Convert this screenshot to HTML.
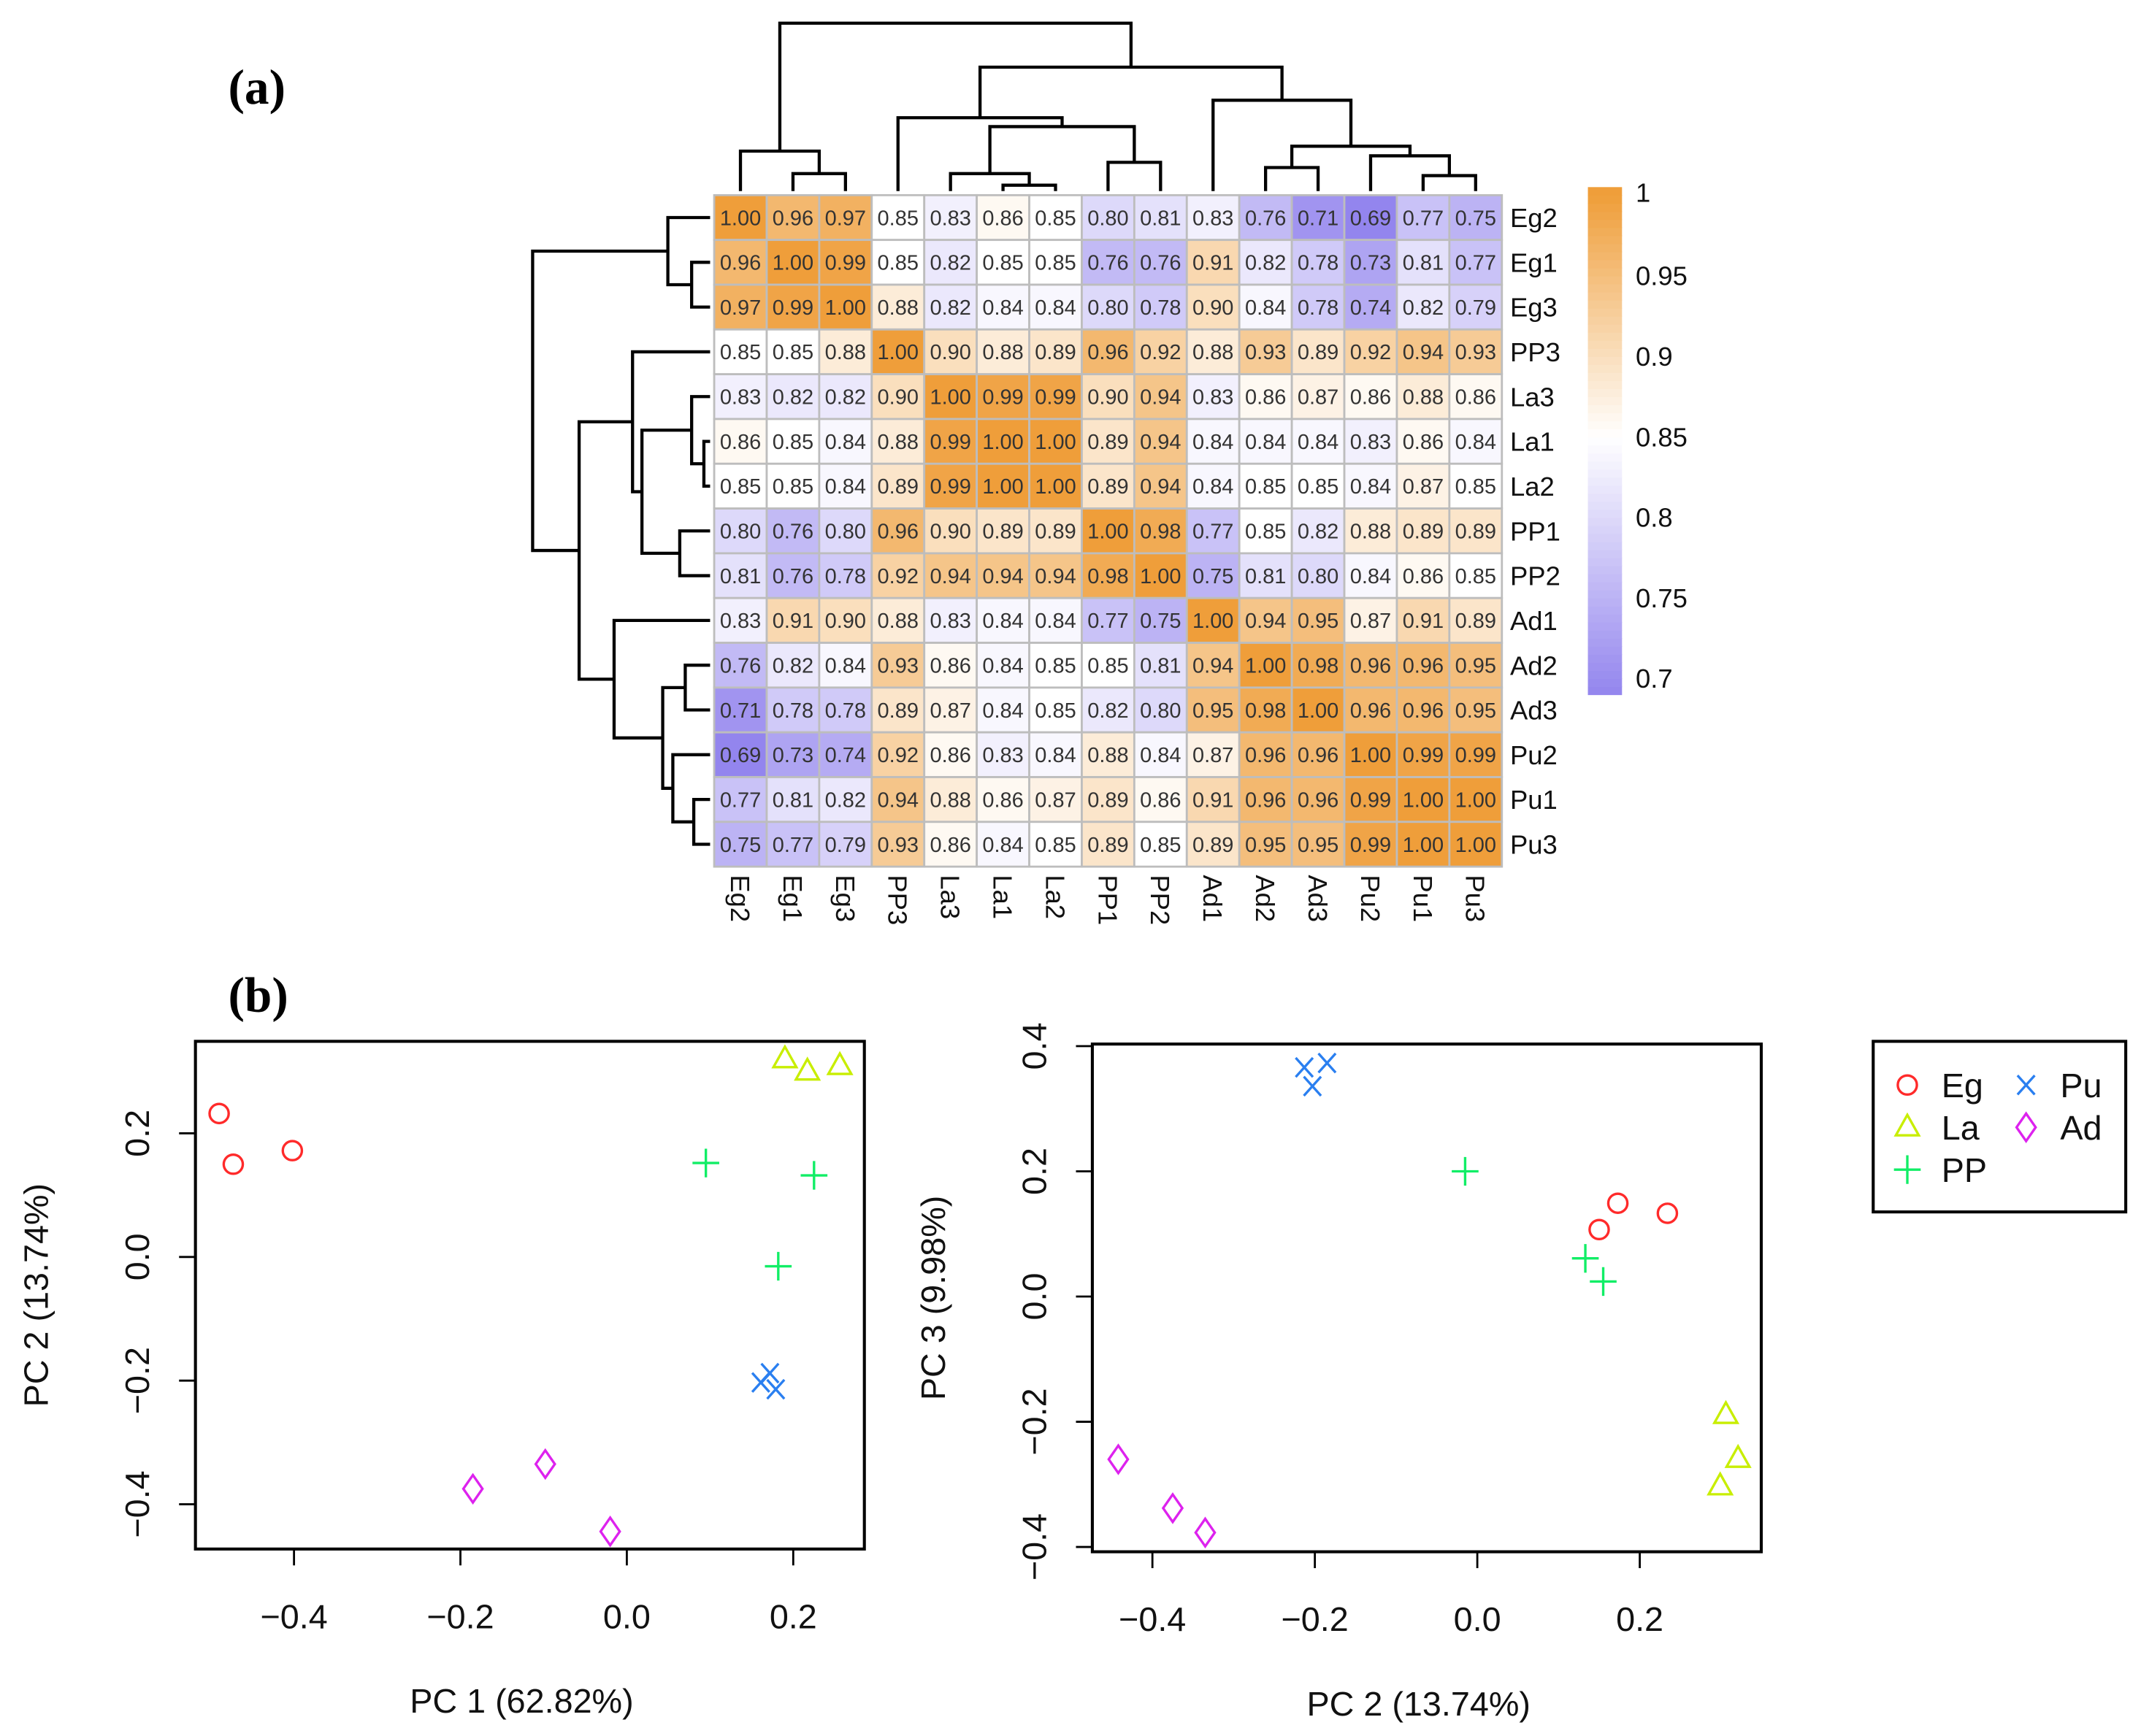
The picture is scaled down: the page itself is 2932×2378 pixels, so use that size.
<!DOCTYPE html>
<html><head><meta charset="utf-8">
<style>
html,body{margin:0;padding:0;background:#fff;}
svg{display:block;}
text{font-family:"Liberation Sans",sans-serif;}
</style></head>
<body>
<svg id="fig" width="2932" height="2378" viewBox="0 0 1568 1272" xmlns="http://www.w3.org/2000/svg">
<rect width="1568" height="1272" fill="#fff"/>
<text x="167" y="76" font-weight="bold" font-size="36" style="font-family:'Liberation Serif',serif">(a)</text>
<text x="167" y="741" font-weight="bold" font-size="36" style="font-family:'Liberation Serif',serif">(b)</text>
<g id="heat"></g>
<g id="pca1"></g>
<g id="pca2"></g>
<g id="legend"></g>
</svg>
<script>
const labels = ["Eg2","Eg1","Eg3","PP3","La3","La1","La2","PP1","PP2","Ad1","Ad2","Ad3","Pu2","Pu1","Pu3"];
const rowEg2 = [1.00,0.96,0.97,0.85,0.83,0.86,0.85,0.80,0.81,0.83,0.76,0.71,0.69,0.77,0.75];
const rowEg1 = [0.96,1.00,0.99,0.85,0.82,0.85,0.85,0.76,0.76,0.91,0.82,0.78,0.73,0.81,0.77];
const rowEg3 = [0.97,0.99,1.00,0.88,0.82,0.84,0.84,0.80,0.78,0.90,0.84,0.78,0.74,0.82,0.79];
const rowPP3 = [0.85,0.85,0.88,1.00,0.90,0.88,0.89,0.96,0.92,0.88,0.93,0.89,0.92,0.94,0.93];
const rowLa3 = [0.83,0.82,0.82,0.90,1.00,0.99,0.99,0.90,0.94,0.83,0.86,0.87,0.86,0.88,0.86];
const rowLa1 = [0.86,0.85,0.84,0.88,0.99,1.00,1.00,0.89,0.94,0.84,0.84,0.84,0.83,0.86,0.84];
const rowLa2 = [0.85,0.85,0.84,0.89,0.99,1.00,1.00,0.89,0.94,0.84,0.85,0.85,0.84,0.87,0.85];
const rowPP1 = [0.80,0.76,0.80,0.96,0.90,0.89,0.89,1.00,0.98,0.77,0.85,0.82,0.88,0.89,0.89];
const rowPP2 = [0.81,0.76,0.78,0.92,0.94,0.94,0.94,0.98,1.00,0.75,0.81,0.80,0.84,0.86,0.85];
const rowAd1 = [0.83,0.91,0.90,0.88,0.83,0.84,0.84,0.77,0.75,1.00,0.94,0.95,0.87,0.91,0.89];
const rowAd2 = [0.76,0.82,0.84,0.93,0.86,0.84,0.85,0.85,0.81,0.94,1.00,0.98,0.96,0.96,0.95];
const rowAd3 = [0.71,0.78,0.78,0.89,0.87,0.84,0.85,0.82,0.80,0.95,0.98,1.00,0.96,0.96,0.95];
const rowPu2 = [0.69,0.73,0.74,0.92,0.86,0.83,0.84,0.88,0.84,0.87,0.96,0.96,1.00,0.99,0.99];
const rowPu1 = [0.77,0.81,0.82,0.94,0.88,0.86,0.87,0.89,0.86,0.91,0.96,0.96,0.99,1.00,1.00];
const rowPu3 = [0.75,0.77,0.79,0.93,0.86,0.84,0.85,0.89,0.85,0.89,0.95,0.95,0.99,1.00,1.00];
const matrix = [rowEg2,rowEg1,rowEg3,rowPP3,rowLa3,rowLa1,rowLa2,rowPP1,rowPP2,rowAd1,rowAd2,rowAd3,rowPu2,rowPu1,rowPu3];
const colorTicks = [1,0.95,0.9,0.85,0.8,0.75,0.7];
const treeMerges = [[1,2,0.104],[0,15,0.238],[5,6,0.035],[4,17,0.104],[7,8,0.171],[18,19,0.384],[3,20,0.437],[10,11,0.140],[13,14,0.092],[12,23,0.210],[22,24,0.267],[9,25,0.541],[21,26,0.738],[16,27,1.0]];

const pcaGroups = ["Eg","La","PP","Pu","Ad"];
const pc1Eg = [-0.490,-0.473,-0.402]; const pc2Eg = [0.232,0.150,0.172]; const pc3Eg = [0.107,0.149,0.133];
const pc1La = [0.190,0.217,0.256]; const pc2La = [0.320,0.300,0.309]; const pc3La = [-0.189,-0.259,-0.303];
const pc1PP = [0.095,0.225,0.182]; const pc2PP = [0.152,0.132,-0.015]; const pc3PP = [0.200,0.061,0.024];
const pc1Pu = [0.161,0.172,0.179]; const pc2Pu = [-0.203,-0.188,-0.214]; const pc3Pu = [0.366,0.373,0.336];
const pc1Ad = [-0.185,-0.098,-0.020]; const pc2Ad = [-0.375,-0.335,-0.444]; const pc3Ad = [-0.260,-0.338,-0.377];
const p2xEg = [0.150,0.173,0.234]; const p2xLa = [0.306,0.321,0.299]; const p2xPP = [-0.015,0.133,0.155];
const p2xPu = [-0.213,-0.185,-0.203]; const p2xAd = [-0.442,-0.375,-0.335];
const xTicks = [-0.4,-0.2,0.0,0.2];
const yTicks1 = [0.2,0.0,-0.2,-0.4];
const yTicks2 = [0.4,0.2,0.0,-0.2,-0.4];

const NS="http://www.w3.org/2000/svg";
function mk(tag, parent, attrs){const e=document.createElementNS(NS,tag);for(const k in attrs)e.setAttribute(k,attrs[k]);parent.appendChild(e);return e;}

const heat=document.getElementById('heat');
const HX0=523,HX1=1100,HY0=143,HY1=635;
const cw=(HX1-HX0)/labels.length, ch=(HY1-HY0)/labels.length;
function lerp(a,b,t){return Math.round(a+(b-a)*t);}
function color(v){
  const lo=[147,133,238], mid=[255,255,255], hi=[239,158,58];
  let c;
  if(v>=0.85){const t=Math.min(1,(v-0.85)/0.15);c=[0,1,2].map(i=>lerp(mid[i],hi[i],t));}
  else{const t=Math.min(1,(0.85-v)/0.16);c=[0,1,2].map(i=>lerp(mid[i],lo[i],t));}
  return `rgb(${c[0]},${c[1]},${c[2]})`;
}
matrix.forEach((row,r)=>{row.forEach((v,c)=>{
  const rc=mk('rect',heat,{x:HX0+c*cw,y:HY0+r*ch,width:cw,height:ch,fill:color(v),stroke:'#bdbdbd','stroke-width':1.5});
  
  
  const t=mk('text',heat,{x:HX0+c*cw+cw/2,y:HY0+r*ch+ch/2+5.5,'text-anchor':'middle','font-size':15.5,fill:'#333'});
  t.textContent=v.toFixed(2);
  
  
});});
labels.forEach((l,i)=>{
  const t=mk('text',heat,{x:1106,y:HY0+i*ch+ch/2+7,'font-size':19.5,fill:'#111'});
  t.textContent=l;
  
  
  const cx=HX0+i*cw+cw/2;
  const t2=mk('text',heat,{x:0,y:0,'font-size':19.5,fill:'#111',transform:`translate(${cx-7},641) rotate(90)`});
  t2.textContent=l;
  
  
});
function dendro(horizontal){
  const pos=labels.map((_,i)=>i), hts=labels.map(()=>0);
  const g=mk('g',heat,{stroke:'#000','stroke-width':2.3,fill:'none'});
  
  
  treeMerges.forEach(m=>{
    const [a,b,h]=m;
    const pa=pos[a],pb=pos[b],ha=hts[a],hb=hts[b];
    let d;
    if(!horizontal){
      const X=p=>HX0+p*cw+cw/2, Y=hh=>HY0-3-hh*123;
      d=`M${X(pa)},${Y(ha)}V${Y(h)}H${X(pb)}V${Y(hb)}`;
    }else{
      const Y=p=>HY0+p*ch+ch/2, X=hh=>HX0-3-hh*130;
      d=`M${X(ha)},${Y(pa)}H${X(h)}V${Y(pb)}H${X(hb)}`;
    }
    const p=mk('path',g,{d});
    
    
    pos.push((pa+pb)/2);hts.push(h);
  });
}
dendro(false);dendro(true);
const CB={x:1163,w:25,y1:143,y07:497};
const cbY=v=>CB.y07+(v-0.7)/(0.3)*(CB.y1-CB.y07);
for(let v=0.69;v<1.0001;v+=0.005){
  const r=mk('rect',heat,{x:CB.x,y:cbY(v+0.005),width:CB.w,height:cbY(v)-cbY(v+0.005)+0.5,fill:color(v+0.0025)});
  
  
}
colorTicks.forEach(v=>{
  const t=mk('text',heat,{x:1198,y:cbY(v)+(v===1?5:7),'font-size':19.5,fill:'#111'});
  t.textContent=String(v);
  
  
});

const groupColors={Eg:'#ff2a2a',La:'#c8ee00',PP:'#11ee66',Pu:'#2a7ff0',Ad:'#dd22ee'};
function marker(g,grp,x,y,s){
  const c=groupColors[grp];let e;
  if(grp==='Eg') e=mk('circle',g,{cx:x,cy:y,r:s*0.5,fill:'none',stroke:c,'stroke-width':1.8});
  else if(grp==='La') e=mk('path',g,{d:`M${x},${y-s*0.65}L${x+s*0.6},${y+s*0.42}L${x-s*0.6},${y+s*0.42}Z`,fill:'none',stroke:c,'stroke-width':1.8});
  else if(grp==='PP') e=mk('path',g,{d:`M${x-s*0.7},${y}H${x+s*0.7}M${x},${y-s*0.75}V${y+s*0.75}`,stroke:c,'stroke-width':1.8});
  else if(grp==='Pu') e=mk('path',g,{d:`M${x-s*0.45},${y-s*0.5}L${x+s*0.45},${y+s*0.5}M${x-s*0.45},${y+s*0.5}L${x+s*0.45},${y-s*0.5}`,stroke:c,'stroke-width':1.8});
  else e=mk('path',g,{d:`M${x},${y-s*0.72}L${x+s*0.5},${y}L${x},${y+s*0.72}L${x-s*0.5},${y}Z`,fill:'none',stroke:c,'stroke-width':1.8});
  return e;
}
function pcaPlot(id,box,xs,ys,xT,yT,xTitle,yTitle,series){
  const g=document.getElementById(id);
  
  
  const fr=mk('rect',g,{x:box.x0,y:box.y0,width:box.x1-box.x0,height:box.y1-box.y0,fill:'none',stroke:'#000','stroke-width':2.2});
  
  
  xT.forEach(v=>{
    const x=xs(v);
    const l=mk('line',g,{x1:x,x2:x,y1:box.y1,y2:box.y1+12,stroke:'#000','stroke-width':1.5});
    
    
    const t=mk('text',g,{x:x,y:box.y1+58,'text-anchor':'middle','font-size':25,fill:'#111'});
    t.textContent=(v<0?'\u2212':'')+Math.abs(v).toFixed(1);
    
    
  });
  yT.forEach(v=>{
    const y=ys(v);
    const l=mk('line',g,{x1:box.x0-12,x2:box.x0,y1:y,y2:y,stroke:'#000','stroke-width':1.5});
    
    
    const t=mk('text',g,{x:0,y:0,'text-anchor':'middle','font-size':25,fill:'#111',transform:`translate(${box.x0-34},${y}) rotate(-90)`});
    t.textContent=(v<0?'\u2212':'')+Math.abs(v).toFixed(1);
    
    
  });
  const xt=mk('text',g,{x:(box.x0+box.x1)/2-6,y:box.y1+120,'text-anchor':'middle','font-size':25,fill:'#111'});
  xt.textContent=xTitle;
  
  
  const yt=mk('text',g,{x:0,y:0,'text-anchor':'middle','font-size':25,fill:'#111',transform:`translate(${box.x0-108},${(box.y0+box.y1)/2}) rotate(-90)`});
  yt.textContent=yTitle;
  
  
  series.forEach(([grp,xv,yv])=>{
    xv.forEach((xx,i)=>{
      const m=marker(g,grp,xs(xx),ys(yv[i]),14);
      
      
    });
  });
}
pcaPlot('pca1',{x0:143,x1:633,y0:763,y1:1135},v=>459+v*609.5,v=>921-v*453,xTicks,yTicks1,'PC 1 (62.82%)','PC 2 (13.74%)',
  [['Eg',pc1Eg,pc2Eg],['La',pc1La,pc2La],['PP',pc1PP,pc2PP],['Pu',pc1Pu,pc2Pu],['Ad',pc1Ad,pc2Ad]]);
pcaPlot('pca2',{x0:800,x1:1290,y0:765,y1:1137},v=>1082+v*595,v=>950-v*458.75,xTicks,yTicks2,'PC 2 (13.74%)','PC 3 (9.98%)',
  [['Eg',p2xEg,pc3Eg],['La',p2xLa,pc3La],['PP',p2xPP,pc3PP],['Pu',p2xPu,pc3Pu],['Ad',p2xAd,pc3Ad]]);

const lg=document.getElementById('legend');


const lb=mk('rect',lg,{x:1372,y:763,width:185,height:125,fill:'none',stroke:'#000','stroke-width':2.2});


const legPos={Eg:[1397,795],Pu:[1484,795],La:[1397,826],Ad:[1484,826],PP:[1397,857]};
pcaGroups.forEach(grp=>{
  const [x,y]=legPos[grp];
  const m=marker(lg,grp,x,y,14);
  
  
  const t=mk('text',lg,{x:x+25,y:y+9,'font-size':25,fill:'#111'});
  t.textContent=grp;
  
  
});
</script>
</body></html>
